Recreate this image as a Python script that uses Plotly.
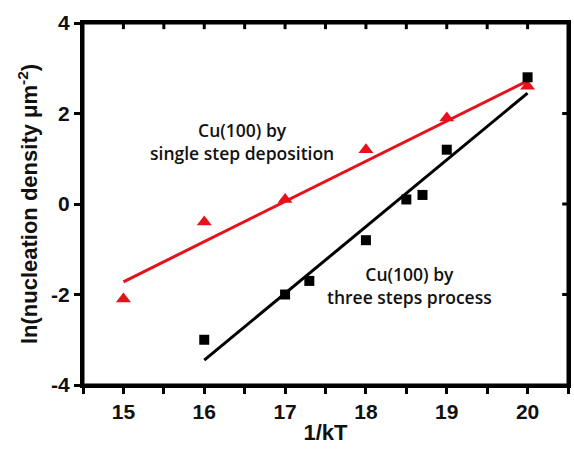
import plotly.graph_objects as go

# Data
x_single = [15, 16, 17, 18, 19, 20]
y_single = [-2.1, -0.4, 0.1, 1.2, 1.9, 2.6]

x_three = [16, 17, 17.3, 18, 18.5, 18.7, 19, 20]
y_three = [-3.0, -2.0, -1.7, -0.8, 0.1, 0.2, 1.2, 2.8]

# Fitted lines (endpoints)
fit_single_x = [15, 20]
fit_single_y = [-1.72, 2.72]
fit_three_x = [16, 20]
fit_three_y = [-3.45, 2.45]

x_ticks = [15, 16, 17, 18, 19, 20]
x_minor_ticks = [15.5, 16.5, 17.5, 18.5, 19.5]
y_ticks = [-4, -2, 0, 2, 4]
y_ticktext = ["-4", "-2", "0", "2", "4"]

RED = "#e8101a"
BLACK = "#000000"
tickfont = dict(family="Liberation Sans, Arial", size=21, color="#111", weight="bold")
titlefont = dict(family="Liberation Sans, Arial", size=22, color="#111", weight="bold")

fig = go.Figure()
fig.add_trace(go.Scatter(x=fit_single_x, y=fit_single_y, mode="lines",
                         line=dict(color=RED, width=3), showlegend=False))
fig.add_trace(go.Scatter(x=fit_three_x, y=fit_three_y, mode="lines",
                         line=dict(color=BLACK, width=3), showlegend=False))
fig.add_trace(go.Scatter(x=x_single, y=y_single, mode="markers",
                         marker=dict(symbol="triangle-up", size=13, color=RED),
                         showlegend=False))
fig.add_trace(go.Scatter(x=x_three, y=y_three, mode="markers",
                         marker=dict(symbol="square", size=10, color=BLACK),
                         showlegend=False))

fig.update_layout(
    width=574, height=455,
    margin=dict(l=83, r=3, t=23, b=70),
    plot_bgcolor="white", paper_bgcolor="white",
    xaxis=dict(range=[14.5, 20.5], tickvals=x_ticks, ticks="outside", ticklen=6,
               tickwidth=3, tickcolor="black", showline=True, linewidth=3,
               linecolor="black", mirror=True, showgrid=False, zeroline=False,
               tickfont=tickfont, automargin=True,
               minor=dict(dtick=0.5, ticks="outside", ticklen=6, tickwidth=3,
                          tickcolor="black", showgrid=False),
               title=dict(text="1/kT", font=titlefont, standoff=3)),
    yaxis=dict(range=[-4, 4], tickvals=y_ticks, ticktext=y_ticktext,
               ticks="outside", ticklen=6, tickwidth=3, tickcolor="black",
               showline=True, linewidth=3, linecolor="black", mirror=True,
               showgrid=False, zeroline=False, tickfont=tickfont,
               automargin=True,
               title=dict(text="ln(nucleation density μm<sup>-2</sup>)",
                          font=titlefont, standoff=8)),
)

# Frame (top / right edges) and inward ticks on the top and right sides
frame = dict(color="black", width=3)
fig.add_shape(type="rect", xref="x domain", yref="y domain",
              x0=0, x1=1, y0=0, y1=1, line=frame, layer="above")
for t in x_ticks + x_minor_ticks:
    fig.add_shape(type="line", xref="x", yref="y domain", x0=t, x1=t,
                  y0=1, y1=0.983, line=frame, layer="above")
for t in y_ticks[1:-1]:
    fig.add_shape(type="line", xref="x domain", yref="y", x0=1, x1=0.988,
                  y0=t, y1=t, line=frame, layer="above")

annfont = dict(family="Open Sans", size=17.5, color="#111", weight=600)
fig.add_annotation(x=16.47, y=1.38, xref="x", yref="y",
                   text="Cu(100) by<br>single step deposition",
                   showarrow=False, font=annfont, align="center")
fig.add_annotation(x=18.54, y=-1.81, xref="x", yref="y",
                   text="Cu(100) by<br>three steps process",
                   showarrow=False, font=annfont, align="center")

fig.write_html("out.html", config={"displayModeBar": False},
               post_script="document.body.style.margin='0';")
